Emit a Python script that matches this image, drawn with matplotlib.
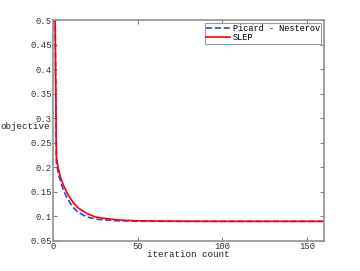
import matplotlib
matplotlib.use("Agg")
import matplotlib.pyplot as plt

plt.rcParams['font.family'] = ['Liberation Mono', 'DejaVu Sans Mono']
plt.rcParams['font.size'] = 6.6

iters = [1, 2, 3, 4, 5, 6, 8, 10, 12, 15, 20, 25, 30, 40, 50, 60, 80, 100, 120, 140, 160]
picard = [0.60, 0.210, 0.190, 0.177, 0.165, 0.155, 0.140, 0.128, 0.118, 0.108, 0.099,
          0.095, 0.093, 0.091, 0.0905, 0.0902, 0.0900, 0.0900, 0.0900, 0.0900, 0.0900]
slep = [0.60, 0.222, 0.199, 0.185, 0.174, 0.165, 0.150, 0.138, 0.128, 0.117, 0.106,
        0.099, 0.096, 0.0925, 0.0912, 0.0906, 0.0902, 0.0900, 0.0900, 0.0900, 0.0900]

fig = plt.figure(figsize=(3.6, 2.71), dpi=100)
ax = fig.add_axes([53 / 360, 30 / 271, 271 / 360, 221 / 271])

ax.plot(iters, picard, color='#3344ee', linestyle='--', linewidth=1.2, label='Picard - Nesterov')
ax.plot(iters, slep, color='#ff0000', linestyle='-', linewidth=1.2, label='SLEP')

ax.set_xlim(0, 160)
ax.set_ylim(0.05, 0.5)
ax.set_xticks([0, 50, 100, 150])
ax.set_yticks([0.05, 0.1, 0.15, 0.2, 0.25, 0.3, 0.35, 0.4, 0.45, 0.5])
ax.set_yticklabels(['0.05', '0.1', '0.15', '0.2', '0.25', '0.3', '0.35', '0.4', '0.45', '0.5'])

for s in ax.spines.values():
    s.set_color('#909090')
    s.set_linewidth(1.2)
ax.tick_params(direction='in', length=3, width=0.8, color='#808080', labelcolor='#333333',
               top=True, right=True, pad=1, labelsize=6.4)

ax.set_xlabel('iteration count', labelpad=-1, color='#222222')
ax.set_ylabel('objective', rotation=0, ha='left', va='center', color='#222222')
ax.yaxis.set_label_coords(-53 / 271, 0.516)

leg = ax.legend(loc='upper right', frameon=True, fancybox=False, borderpad=0.15,
                handlelength=2.8, handletextpad=0.3, labelspacing=0.05, borderaxespad=0.3,
                fontsize=6.2)
leg.get_frame().set_edgecolor('#808080')
leg.get_frame().set_linewidth(0.8)

fig.savefig('out.png', dpi=100)
